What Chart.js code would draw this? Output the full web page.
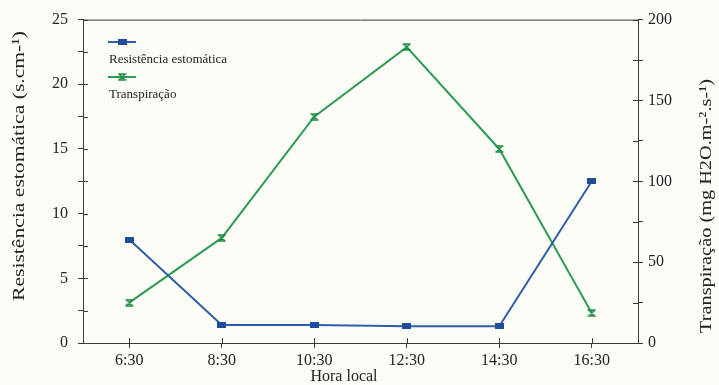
<!DOCTYPE html>
<html>
<head>
<meta charset="utf-8">
<script src="https://cdn.jsdelivr.net/npm/chart.js@4/dist/chart.umd.min.js"></script>
<style>
  html, body { margin: 0; padding: 0; background: #fdfdf8; }
  #wrap { width: 719px; height: 385px; position: relative; }
</style>
</head>
<body>
<div id="wrap"><canvas id="chart"></canvas></div>
<script>
// hourly measurements
const hours = ['6:30', '8:30', '10:30', '12:30', '14:30', '16:30'];
const resistencia = [8.0, 1.4, 1.4, 1.3, 1.3, 12.5];   // s.cm-1
const transpiracao = [25, 65, 140, 183, 120, 18.5];    // mg H2O.m-2.s-1

const resTickLabels = [0, 5, 10, 15, 20, 25];
const traTickLabels = [0, 50, 100, 150, 200];

const BLUE = '#2f5ea9';
const BLUE_MARK = '#1f4d9c';
const GREEN = '#2f9c55';
const GREEN_MARK = '#1f8c45';
const AXIS = '#3a3a3a';
const FONT = '"Liberation Serif", "Times New Roman", serif';

// small marker images
function rectMarker() {
  const c = document.createElement('canvas');
  c.width = 9; c.height = 6;
  const g = c.getContext('2d');
  g.fillStyle = BLUE_MARK;
  g.fillRect(0, 0, 9, 6);
  return c;
}
function hourglassMarker() {
  const c = document.createElement('canvas');
  c.width = 9; c.height = 8;
  const g = c.getContext('2d');
  g.strokeStyle = GREEN_MARK;
  g.lineWidth = 1.6;
  g.beginPath();
  g.moveTo(0.5, 1); g.lineTo(8.5, 1);
  g.moveTo(0.5, 7); g.lineTo(8.5, 7);
  g.moveTo(1.5, 1); g.lineTo(7.5, 7);
  g.moveTo(7.5, 1); g.lineTo(1.5, 7);
  g.stroke();
  return c;
}
const blueMark = rectMarker();
const greenMark = hourglassMarker();

// rotated title, stretched along its length to span `len` pixels
function verticalText(ctx, text, x, y, len) {
  ctx.save();
  ctx.translate(x, y);
  ctx.rotate(-Math.PI / 2);
  ctx.scale(len / ctx.measureText(text).width, 1);
  ctx.fillText(text, 0, 0);
  ctx.restore();
}

// ticks that cross the axis line, plus the top frame, legend and axis titles
const framePlugin = {
  id: 'frame',
  afterDraw(chart) {
    const ctx = chart.ctx;
    const a = chart.chartArea;
    const { x, y, y1 } = chart.scales;
    ctx.save();
    ctx.strokeStyle = AXIS;
    ctx.lineWidth = 1;
    ctx.beginPath();
    ctx.moveTo(a.left, a.top + 0.5);
    ctx.lineTo(a.right, a.top + 0.5);
    y.ticks.forEach((t, i) => {
      const p = Math.round(y.getPixelForTick(i)) + 0.5;
      ctx.moveTo(a.left, p); ctx.lineTo(a.left + 5, p);
    });
    y1.ticks.forEach((t, i) => {
      const p = Math.round(y1.getPixelForTick(i)) + 0.5;
      ctx.moveTo(a.right, p); ctx.lineTo(a.right - 5, p);
    });
    x.ticks.forEach((t, i) => {
      const p = Math.round(x.getPixelForTick(i)) + 0.5;
      ctx.moveTo(p, a.bottom); ctx.lineTo(p, a.bottom - 5);
    });
    ctx.stroke();

    // legend: sample line above its label
    const lx = 108, rows = [42, 77];
    chart.data.datasets.forEach((ds, i) => {
      const ly = rows[i];
      ctx.strokeStyle = ds.borderColor;
      ctx.lineWidth = 2;
      ctx.beginPath();
      ctx.moveTo(lx, ly); ctx.lineTo(lx + 28, ly);
      ctx.stroke();
      const img = ds.pointStyle;
      ctx.drawImage(img, lx + 14 - img.width / 2, ly - img.height / 2);
      ctx.fillStyle = '#222';
      ctx.font = '13px ' + FONT;
      ctx.textBaseline = 'middle';
      ctx.textAlign = 'left';
      ctx.fillText(ds.label, lx + 1, ly + 18);
    });

    ctx.fillStyle = '#222';
    ctx.textAlign = 'center';
    ctx.textBaseline = 'middle';
    ctx.font = '16px ' + FONT;
    ctx.fillText('Hora local', 344, 377);
    ctx.font = '17px ' + FONT;
    verticalText(ctx, 'Resistência estomática (s.cm-¹)', 20, 166, 270);
    verticalText(ctx, 'Transpiração (mg H2O.m-².s-¹)', 707, 206, 254);
    ctx.restore();
  }
};

new Chart(document.getElementById('chart'), {
  type: 'line',
  data: {
    labels: hours,
    datasets: [{
      label: 'Resistência estomática',
      data: resistencia,
      yAxisID: 'y',
      borderColor: BLUE,
      backgroundColor: BLUE_MARK,
      borderWidth: 2,
      pointStyle: blueMark,
      tension: 0
    }, {
      label: 'Transpiração',
      data: transpiracao,
      yAxisID: 'y1',
      borderColor: GREEN,
      backgroundColor: GREEN_MARK,
      borderWidth: 2,
      pointStyle: greenMark,
      tension: 0
    }]
  },
  options: {
    responsive: true,
    maintainAspectRatio: false,
    animation: false,
    layout: { padding: { top: 19, bottom: 0, left: 0, right: 0 } },
    plugins: {
      legend: { display: false },
      tooltip: { enabled: false }
    },
    scales: {
      x: {
        offset: true,
        grid: { display: true, drawOnChartArea: false, tickLength: 5, color: AXIS, offset: false },
        border: { color: AXIS, width: 1 },
        ticks: { color: '#222', font: { family: FONT, size: 16 }, padding: 3, maxRotation: 0 },
        afterFit(scale) { scale.height = 42; }
      },
      y: {
        position: 'left',
        min: 0, max: 25,
        grid: { drawOnChartArea: false, tickLength: 5, color: AXIS },
        border: { color: AXIS, width: 1 },
        ticks: {
          stepSize: 2.5,
          color: '#222',
          font: { family: FONT, size: 16 },
          padding: 10,
          callback: v => resTickLabels.includes(v) ? String(v) : ''
        },
        afterFit(scale) { scale.width = 83; }
      },
      y1: {
        position: 'right',
        min: 0, max: 200,
        grid: { drawOnChartArea: false, tickLength: 5, color: AXIS },
        border: { color: AXIS, width: 1 },
        ticks: {
          stepSize: 25,
          color: '#222',
          font: { family: FONT, size: 16 },
          padding: 5,
          callback: v => traTickLabels.includes(v) ? String(v) : ''
        },
        afterFit(scale) { scale.width = 81; }
      }
    }
  },
  plugins: [framePlugin]
});
</script>
</body>
</html>
